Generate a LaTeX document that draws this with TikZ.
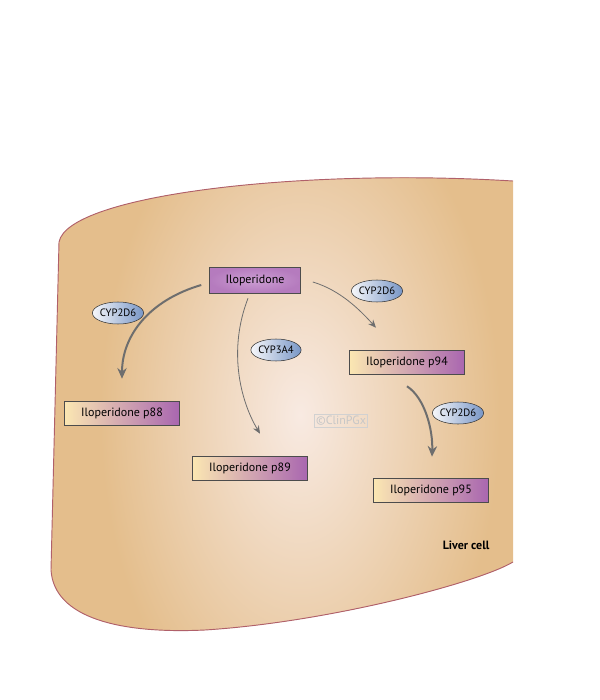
\documentclass[tikz,border=0pt]{standalone}
\usepackage{fontspec}
\setmainfont{PT Sans}
\usetikzlibrary{arrows.meta, positioning, calc, shapes.geometric}

\definecolor{celltan}{HTML}{E4BE8C}
\definecolor{celllight}{HTML}{F8EAE2}
\definecolor{cellline}{HTML}{B0606A}
\definecolor{metaby}{HTML}{FBE7B2}
\definecolor{metabp}{HTML}{A966B0}
\definecolor{parentp}{HTML}{B57BBE}
\definecolor{parentl}{HTML}{CC9ED3}
\definecolor{enzw}{HTML}{F6F7FA}
\definecolor{enzb}{HTML}{7896C6}
\definecolor{arrowgray}{HTML}{6E6E6E}

\begin{document}
\begin{tikzpicture}[
        x=0.75pt, y=-0.75pt,
        parent/.style={
            draw=black!70,
            shading=radial,
            inner color=parentl,
            outer color=parentp,
            minimum width=91*0.75pt,
            minimum height=26*0.75pt,
            inner sep=0pt,
            font=\fontsize{9}{10}\selectfont
        },
        metabolite/.style={
            draw=black!70,
            left color=metaby,
            right color=metabp,
            minimum width=115*0.75pt,
            minimum height=24*0.75pt,
            inner sep=0pt,
            font=\fontsize{9}{10}\selectfont
        },
        enzyme/.style={
            draw=black!80,
            ellipse,
            left color=enzw,
            right color=enzb,
            minimum width=48*0.75pt,
            minimum height=22*0.75pt,
            inner sep=0pt,
            font=\fontsize{8}{9}\selectfont
        },
        thinarrow/.style={
            -{Stealth[length=6pt, width=5pt]},
            arrowgray,
            line width=0.6pt
        },
        thickarrow/.style={
            -{Stealth[length=8pt, width=7pt]},
            arrowgray,
            line width=1.5pt
        }
    ]

        \useasboundingbox (0,0) rectangle (600,700);

        % ---------------------------------------------------------------------
        % Liver cell
        % ---------------------------------------------------------------------

        \begin{scope}
            \clip
                (513,181) .. controls (300,168) and (68,195) .. (59,242)
                -- (51,570)
                .. controls (54,618) and (120,634) .. (205,630)
                .. controls (330,622) and (480,582) .. (513,562)
                -- cycle;
            \fill[celltan] (40,160) rectangle (520,640);
            \shade[inner color=celllight, outer color=celltan]
                (300,415) ellipse [x radius=200, y radius=340];
        \end{scope}

        \draw[cellline, line width=0.7pt]
            (513,181) .. controls (300,168) and (68,195) .. (59,242)
            -- (51,570)
            .. controls (54,618) and (120,634) .. (205,630)
            .. controls (330,622) and (480,582) .. (513,562);

        \node[font=\fontsize{9}{10}\selectfont\bfseries, anchor=east] (cell) at (494,545) {Liver cell};

        % ---------------------------------------------------------------------
        % Compounds
        % ---------------------------------------------------------------------

        \node[parent] (ilo) at (255,280) {Iloperidone};

        \node[metabolite] (p88) at (122,413) {Iloperidone p88};
        \node[metabolite] (p89) at (250,468) {Iloperidone p89};
        \node[metabolite] (p94) at (407,362) {Iloperidone p94};
        \node[metabolite] (p95) at (431,490) {Iloperidone p95};

        % ---------------------------------------------------------------------
        % Enzymes
        % ---------------------------------------------------------------------

        \node[enzyme] (enzA) at (118,313) {CYP2D6};
        \node[enzyme] (enzB) at (276,350) {CYP3A4};
        \node[enzyme] (enzC) at (377,291) {CYP2D6};
        \node[enzyme] (enzD) at (458,413) {CYP2D6};

        % ---------------------------------------------------------------------
        % Reactions
        % ---------------------------------------------------------------------

        \draw[thickarrow]
            ($(ilo.west)+(-8,5)$) .. controls (150,300) and (122,335) .. ($(p88.north)+(0,-22)$);

        \draw[thinarrow]
            ($(ilo.south)+(-7,5)$) .. controls (228,350) and (240,400) .. ($(p89.north)+(10,-22)$);

        \draw[thinarrow]
            ($(ilo.east)+(12,2)$) .. controls (340,290) and (360,310) .. ($(p94.north)+(-31,-22)$);

        \draw[thickarrow]
            ($(p94.south)+(0,12)$) .. controls (425,398) and (433,430) .. ($(p95.north)+(1,-21)$);

        % ---------------------------------------------------------------------
        % Watermark
        % ---------------------------------------------------------------------

        \node[draw=black!18, text=black!22, line width=0.8pt, inner sep=1.5pt,
              font=\fontsize{9}{10}\selectfont] (mark) at (341,421) {©ClinPGx};

    \end{tikzpicture}
\end{document}
